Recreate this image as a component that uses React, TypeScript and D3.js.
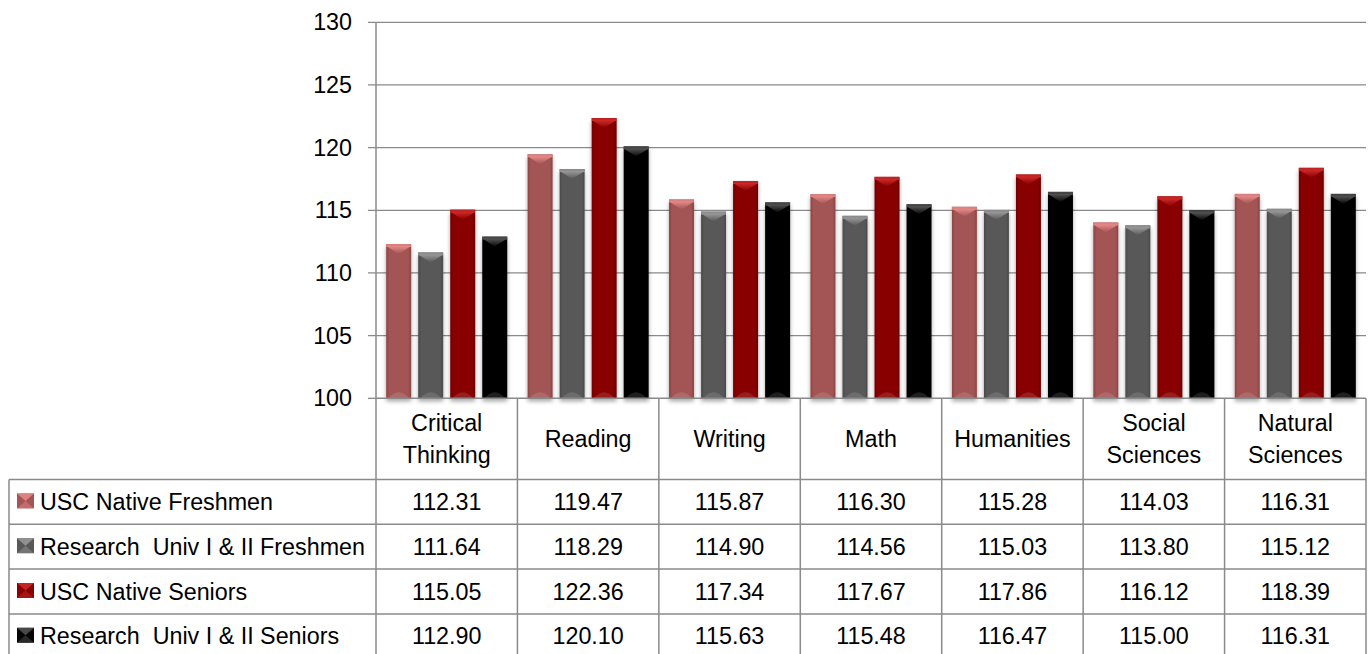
import React from "react";
import * as d3 from "d3";

const categories = ["Critical Thinking", "Reading", "Writing", "Math", "Humanities", "Social Sciences", "Natural Sciences"];
const seriesNames = ["USC Native Freshmen", "Research  Univ I & II Freshmen", "USC Native Seniors", "Research  Univ I & II Seniors"];
const uscFreshmen = [112.31, 119.47, 115.87, 116.3, 115.28, 114.03, 116.31];
const researchFreshmen = [111.64, 118.29, 114.9, 114.56, 115.03, 113.8, 115.12];
const uscSeniors = [115.05, 122.36, 117.34, 117.67, 117.86, 116.12, 118.39];
const researchSeniors = [112.9, 120.1, 115.63, 115.48, 116.47, 115.0, 116.31];
const yTicks = [100, 105, 110, 115, 120, 125, 130];

const seriesValues = [uscFreshmen, researchFreshmen, uscSeniors, researchSeniors];
const seriesColors = ["#a35454", "#585858", "#880000", "#060606"];
const seriesLight = ["#e88a8a", "#9a9a9a", "#d02a2a", "#555555"];
const seriesEdge = ["#8a4444", "#4a4a4a", "#6e0000", "#000000"];

const W = 1372;
const H = 654;
const plotLeft = 376;
const plotRight = 1366;
const plotTop = 22.3;
const plotBottom = 398.3;
const rowTop = 479.5;
const rowH = 44.8;
const tableLeft = 9;
const FONT = "'Liberation Sans', Arial, sans-serif";
const FS = 23.3;
const lineColor = "#8a8a8a";

export default function App() {
  const y = d3.scaleLinear().domain([100, 130]).range([plotBottom, plotTop]);
  const x0 = d3.scaleBand<string>().domain(categories).range([plotLeft, plotRight]).paddingInner(0).paddingOuter(0);
  const bw = x0.bandwidth();
  const groupPad = bw * 0.072;
  const x1 = d3.scaleBand<number>().domain([0, 1, 2, 3]).range([groupPad, bw - groupPad]).paddingInner(0.22).paddingOuter(0);
  const b = x1.bandwidth();
  const nRows = seriesNames.length;
  const tableBottom = rowTop + rowH * nRows;

  return (
    <svg width={W} height={H} style={{ position: "absolute", left: 0, top: 0 }} fontFamily={FONT}>
      <defs>
        <filter id="shadow" x="-30%" y="-10%" width="160%" height="130%">
          <feDropShadow dx="0" dy="3" stdDeviation="2.2" floodColor="#000" floodOpacity="0.35" />
        </filter>
        {seriesColors.map((c, i) => (
          <linearGradient key={i} id={`g${i}`} x1="0" x2="1" y1="0" y2="0">
            <stop offset="0" stopColor={seriesEdge[i]} />
            <stop offset="0.12" stopColor={c} />
            <stop offset="0.88" stopColor={c} />
            <stop offset="1" stopColor={seriesEdge[i]} />
          </linearGradient>
        ))}
        {seriesColors.map((c, i) => (
          <linearGradient key={"t" + i} id={`t${i}`} x1="0" x2="0" y1="0" y2="1">
            <stop offset="0" stopColor={seriesLight[i]} />
            <stop offset="1" stopColor={c} />
          </linearGradient>
        ))}
      </defs>

      {/* gridlines */}
      {yTicks.map((t) => (
        <g key={t}>
          <line x1={plotLeft - 8} x2={t === 100 ? plotLeft : plotRight} y1={y(t)} y2={y(t)} stroke={lineColor} strokeWidth={1.3} />
          <text x={352} y={y(t)} dy="0.35em" textAnchor="end" fontSize={FS} fill="#000">
            {t}
          </text>
        </g>
      ))}

      {/* bars */}
      {categories.map((cat, ci) => (
        <g key={cat} transform={`translate(${x0(cat)},0)`}>
          {seriesValues.map((vals, si) => {
            const bx = x1(si)!;
            const top = y(vals[ci]);
            const h = plotBottom - top;
            return (
              <g key={si}>
                <rect x={bx} y={top} width={b} height={h} fill={`url(#g${si})`} filter="url(#shadow)" />
                <rect x={bx} y={top} width={b} height={3} fill={seriesLight[si]} opacity={0.8} />
                <path d={`M${bx},${top + 2}L${bx + b},${top + 2}L${bx + b / 2},${top + 10}Z`} fill={`url(#t${si})`} />
                <path
                  d={`M${bx + 2},${plotBottom}Q${bx + b / 2},${plotBottom - 12} ${bx + b - 2},${plotBottom}Z`}
                  fill="#ffffff"
                  opacity={0.12}
                />
              </g>
            );
          })}
        </g>
      ))}

      {/* axis line */}
      <line x1={plotLeft} x2={plotLeft} y1={plotTop} y2={tableBottom + 10} stroke={lineColor} strokeWidth={1.5} />
      <line x1={plotLeft} x2={plotRight} y1={plotBottom} y2={plotBottom} stroke={lineColor} strokeWidth={1.5} />

      {/* table grid */}
      {categories.map((cat) => (
        <line key={cat} x1={x0(cat)! + bw} x2={x0(cat)! + bw} y1={plotBottom} y2={tableBottom + 10} stroke={lineColor} strokeWidth={1.5} />
      ))}
      <line x1={tableLeft} x2={tableLeft} y1={rowTop} y2={tableBottom + 10} stroke={lineColor} strokeWidth={1.5} />
      {seriesNames.map((s, ri) => (
        <line key={s} x1={tableLeft} x2={plotRight} y1={rowTop + ri * rowH} y2={rowTop + ri * rowH} stroke={lineColor} strokeWidth={1.5} />
      ))}

      {/* header labels */}
      {categories.map((cat) => {
        const lines = cat.split(" ");
        const cx = x0(cat)! + bw / 2;
        const cy = (plotBottom + rowTop) / 2;
        const lh = 32;
        return (
          <text key={cat} textAnchor="middle" fontSize={FS} fill="#000">
            {lines.map((ln, li) => (
              <tspan key={li} x={cx} y={cy + (li - (lines.length - 1) / 2) * lh} dy="0.35em">
                {ln}
              </tspan>
            ))}
          </text>
        );
      })}

      {/* rows */}
      {seriesNames.map((s, ri) => {
        const cy = rowTop + ri * rowH + rowH / 2;
        const sx = 17;
        const sw = 17;
        const sh = 15;
        const sy = cy - sh / 2 - 1;
        return (
          <g key={s}>
            <rect x={sx} y={sy} width={sw} height={sh} fill={seriesColors[ri]} />
            <path d={`M${sx},${sy}L${sx + sw},${sy}L${sx + sw / 2},${sy + sh / 2}Z`} fill={seriesLight[ri]} opacity={0.85} />
            <path d={`M${sx},${sy + sh}L${sx + sw},${sy + sh}L${sx + sw / 2},${sy + sh / 2}Z`} fill={seriesLight[ri]} opacity={0.45} />
            <text x={40} y={cy} dy="0.35em" fontSize={FS} fill="#000" style={{ whiteSpace: "pre" }}>
              {s}
            </text>
            {categories.map((cat, ci) => (
              <text key={cat} x={x0(cat)! + bw / 2} y={cy} dy="0.35em" textAnchor="middle" fontSize={FS} fill="#000">
                {seriesValues[ri][ci].toFixed(2)}
              </text>
            ))}
          </g>
        );
      })}
    </svg>
  );
}
